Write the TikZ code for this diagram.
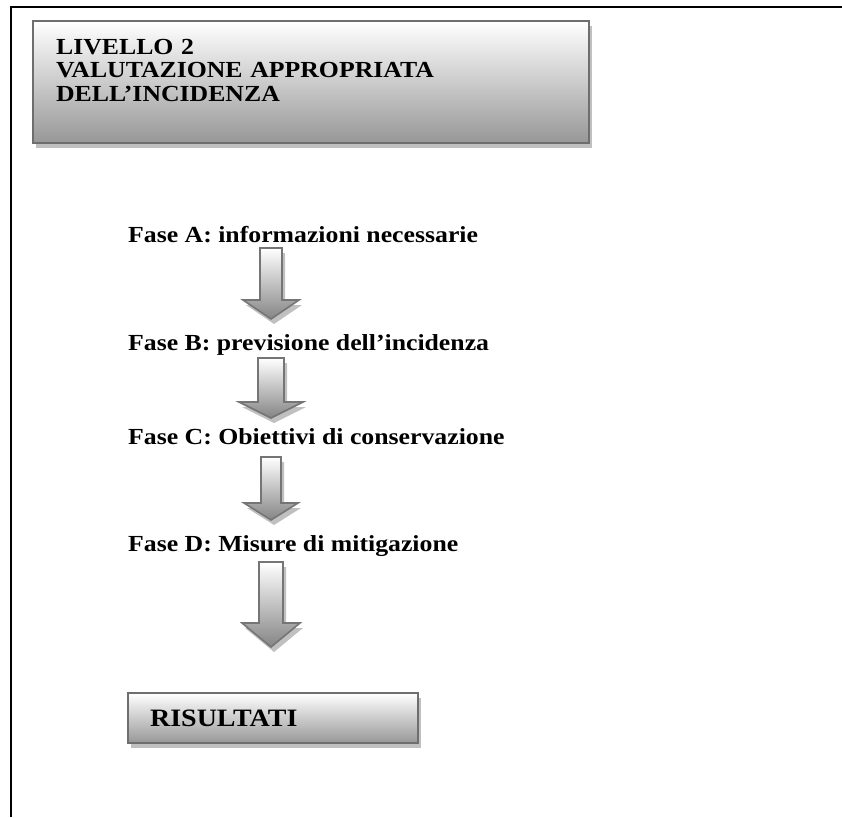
\documentclass[tikz,border=0pt]{standalone}
\usepackage{fontspec}
\setmainfont{Liberation Serif}[FakeStretch=1.12]
\usepackage{tikz}
\usetikzlibrary{positioning,calc,shadows}
\definecolor{boxline}{HTML}{6E6E6E}
\definecolor{boxshade}{HTML}{C0C0C0}
\definecolor{boxbottom}{HTML}{979797}
\definecolor{arrowline}{HTML}{757575}
\definecolor{arrowbottom}{HTML}{858585}
% block arrow: top, head start, tip, shaft half width, head half width
\newcommand{\blkarrow}[5]{%
  \path[blk] (271-#4,#1) -- (271+#4,#1) -- (271+#4,#2) -- (271+#5,#2)
    -- (271,#3) -- (271-#5,#2) -- (271-#4,#2) -- cycle;}
\begin{document}
\begin{tikzpicture}[x=1pt, y=-1pt,
  phase/.style={anchor=base west, inner sep=0pt,
                font=\bfseries\fontsize{23}{23.5}\selectfont},
  grbox/.style={draw=boxline, line width=2.2pt, top color=white,
                bottom color=boxbottom, anchor=north west, align=left,
                inner ysep=0pt, font=\bfseries\fontsize{23}{23.5}\selectfont,
                drop shadow={shadow xshift=3pt, shadow yshift=-5pt,
                             fill=boxshade, opacity=1}},
  blk/.style={draw=arrowline, line width=1.6pt, top color=white,
              bottom color=arrowbottom,
              preaction={fill=boxshade,
                         transform canvas={xshift=3pt, yshift=-5pt}}}]
\useasboundingbox (0,0) rectangle (842,817);
\draw[line width=1.6pt] (11,817) -- (11,7) -- (842,7);
\node[grbox, minimum width=556pt, minimum height=122pt, text width=510pt,
      inner xsep=23pt, text height=33pt, text depth=89pt] (livello) at (32,20)
  {LIVELLO 2\\ VALUTAZIONE APPROPRIATA\\ DELL’INCIDENZA};
\node[phase] (faseA) at (128,242) {Fase A: informazioni necessarie};
\node[phase] (faseB) at (128,350) {Fase B: previsione dell’incidenza};
\node[phase] (faseC) at (128,444) {Fase C: Obiettivi di conservazione};
\node[phase] (faseD) at (128,551) {Fase D: Misure di mitigazione};
\node[grbox, minimum width=290pt, minimum height=50pt, text width=246pt,
      inner xsep=22pt, font=\bfseries\fontsize{25}{25}\selectfont]
  (risultati) at (127,692) {RISULTATI};
\blkarrow{248}{300}{319}{11}{28}
\blkarrow{358}{402}{418}{13}{32}
\blkarrow{457}{503}{520}{10}{27}
\blkarrow{562}{623}{647}{12}{29}
\end{tikzpicture}
\end{document}
